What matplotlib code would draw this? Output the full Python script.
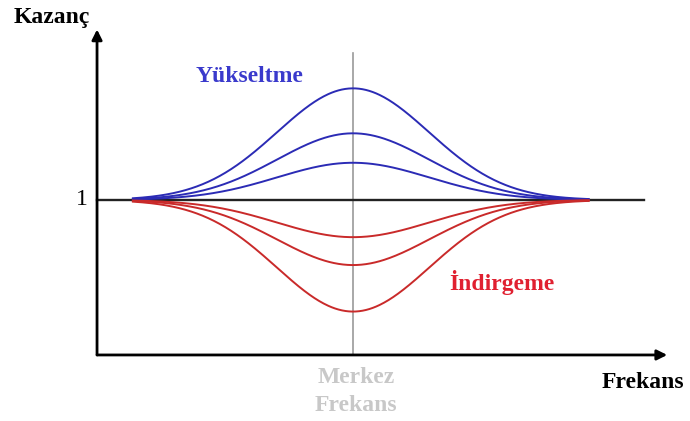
import matplotlib
matplotlib.use("Agg")
import matplotlib.pyplot as plt
import numpy as np

# peak / dip gain of each bell curve (baseline gain is 1)
boost_gains = [1.72, 1.43, 1.24]
cut_gains = [0.76, 0.58, 0.28]
center_freq = 1.0
bandwidth = 0.297
freq_start, freq_end = 0.14, 1.92

plt.rcParams['font.family'] = ['Liberation Serif', 'DejaVu Serif']

fig = plt.figure(figsize=(6.9, 4.21), dpi=100)
ax = fig.add_axes([0, 0, 1, 1])
ax.set_xlim(-0.379, 2.316)
ax.set_ylim(-0.426, 2.29)
ax.axis('off')

freq = np.linspace(freq_start, freq_end, 400)
bell = np.exp(-((freq - center_freq) ** 2) / (2 * bandwidth ** 2))

# unity gain line and centre frequency marker
ax.plot([0, 2.137], [1, 1], color='#222222', lw=1.7, zorder=2)
ax.plot([center_freq, center_freq], [0, 1.948], color='#9a9a9a', lw=1.2, zorder=1)

for g in boost_gains:
    ax.plot(freq, 1 + (g - 1) * bell, color='#2b2bb5', lw=1.4, zorder=3)
for g in cut_gains:
    ax.plot(freq, 1 + (g - 1) * bell, color='#c92a2a', lw=1.4, zorder=3)

# axes with arrow heads
arrow = dict(arrowstyle='-|>', lw=2.0, color='black', mutation_scale=15,
             shrinkA=0, shrinkB=0)
ax.annotate('', xy=(2.227, 0), xytext=(0, 0), arrowprops=arrow)
ax.annotate('', xy=(0, 2.1), xytext=(0, 0), arrowprops=arrow)

bold = dict(fontsize=17, fontweight='bold', ha='center', va='center')
ax.text(-0.176, 2.174, 'Kazanç', color='black', **bold)
ax.text(0.594, 1.794, 'Yükseltme', color='#3a3acc', **bold)
ax.text(1.582, 0.465, 'İndirgeme', color='#e02030', **bold)
ax.text(2.133, -0.18, 'Frekans', color='black', **bold)
ax.text(1.012, -0.235, 'Merkez\nFrekans', color='#c8c8c8',
        fontsize=17, fontweight='bold', ha='center', va='center',
        linespacing=1.4)
ax.text(-0.059, 1, '1', fontsize=17, ha='center', va='center', color='black')

fig.savefig('out.png', dpi=100)
